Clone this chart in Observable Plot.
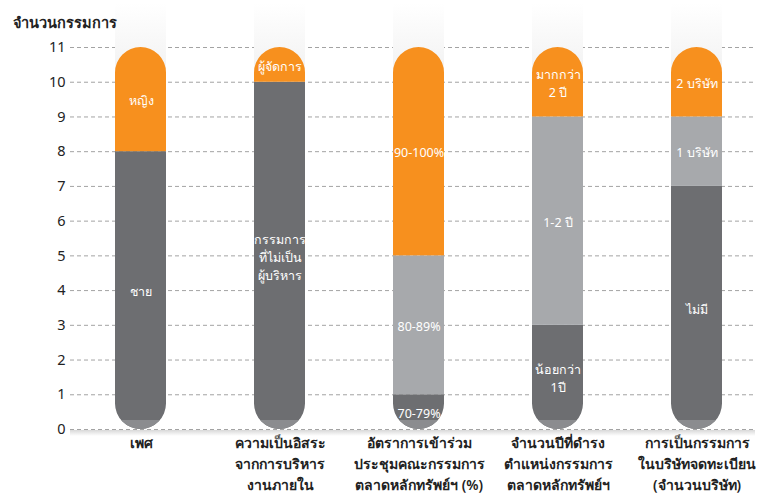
<!DOCTYPE html>
<html>
<head>
<meta charset="utf-8">
<script src="https://cdn.jsdelivr.net/npm/d3@7"></script>
<script src="https://cdn.jsdelivr.net/npm/@observablehq/plot@0.6"></script>
<style>
  body { margin: 0; background: #fff; }
  #chart svg { font-family: "Noto Sans", "DejaVu Sans", sans-serif; }
</style>
</head>
<body>
<div id="chart"></div>
<script>
// ---- data ----
const categories = [
  "เพศ",
  "ความเป็นอิสระ\nจากการบริหาร\nงานภายใน",
  "อัตราการเข้าร่วม\nประชุมคณะกรรมการ\nตลาดหลักทรัพย์ฯ (%)",
  "จำนวนปีที่ดำรง\nตำแหน่งกรรมการ\nตลาดหลักทรัพย์ฯ",
  "การเป็นกรรมการ\nในบริษัทจดทะเบียน\n(จำนวนบริษัท)"
];
const segCategory = [0, 0, 1, 1, 2, 2, 2, 3, 3, 3, 4, 4, 4];
const segLabels = [
  "ชาย", "หญิง",
  "กรรมการ\nที่ไม่เป็น\nผู้บริหาร", "ผู้จัดการ",
  "70-79%", "80-89%", "90-100%",
  "น้อยกว่า\n1ปี", "1-2 ปี", "มากกว่า\n2 ปี",
  "ไม่มี", "1 บริษัท", "2 บริษัท"
];
const segValues = [8, 3, 10, 1, 1, 4, 6, 3, 6, 2, 7, 2, 2];
const segLevel = ["low", "high", "low", "high", "low", "mid", "high", "low", "mid", "high", "low", "mid", "high"];
const levels = ["low", "mid", "high"];
const levelColors = ["#6d6e71", "#a7a9ac", "#f7901e"];
const yTicks = [0, 1, 2, 3, 4, 5, 6, 7, 8, 9, 10, 11];
const yMax = 11;
const yTitle = "จำนวนกรรมการ";

const segments = segValues.map((v, i) => ({
  cat: categories[segCategory[i]],
  value: v,
  level: segLevel[i],
  label: segLabels[i]
}));

const plot = Plot.plot({
  width: 758,
  height: 493,
  marginTop: 47,
  marginBottom: 64,
  marginLeft: 70,
  marginRight: 3,
  style: { fontFamily: "'Noto Sans', 'DejaVu Sans', sans-serif", color: "#222", background: "#fff" },
  x: { type: "band", domain: categories, range: [70, 768], paddingInner: 0.633, paddingOuter: 0.327, label: null },
  y: { domain: [0, yMax], label: null },
  color: { domain: levels, range: levelColors },
  marks: [
    Plot.ruleY(yTicks, { stroke: "#a3a3a3", strokeWidth: 1, strokeDasharray: "4,3", className: "grid" }),
    Plot.barY(segments, { x: "cat", y: "value", fill: "level", className: "capbars" }),
    Plot.text(segments, Plot.stackY({
      x: "cat", y: "value", text: "label", fill: "white",
      fontSize: 12.5, lineHeight: 1.45
    })),
    Plot.axisY({ ticks: yTicks, tickSize: 0, tickPadding: 5, fontSize: 14.5, label: null, tickFormat: d => d }),
    Plot.axisX({ tickSize: 0, tickPadding: 4, fontSize: 14, fontWeight: 600, lineHeight: 1.48, label: null }),
    Plot.text([yTitle], {
      frameAnchor: "top-left", dx: -58, dy: -30, textAnchor: "start", lineAnchor: "top",
      fontSize: 14.5, fontWeight: "bold", fill: "#222"
    })
  ]
});

// clip stacked bars to capsule shapes using the plot's own scales
const xs = plot.scale("x"), ys = plot.scale("y");
const svg = d3.select(plot);
const defs = svg.insert("defs", ":first-child");
const bw = xs.bandwidth;
const cp = defs.append("clipPath").attr("id", "capsules");
categories.forEach(c => {
  cp.append("rect")
    .attr("x", xs.apply(c))
    .attr("width", bw)
    .attr("y", ys.apply(yMax))
    .attr("height", ys.apply(0) - ys.apply(yMax))
    .attr("rx", bw / 2).attr("ry", bw / 2);
});
// gradients
const grad = defs.append("linearGradient").attr("id", "baseShade").attr("x1", 0).attr("x2", 0).attr("y1", 0).attr("y2", 1);
grad.append("stop").attr("offset", 0).attr("stop-color", "#d8d8d8");
grad.append("stop").attr("offset", 1).attr("stop-color", "#ffffff");
const colGrad = defs.append("linearGradient").attr("id", "colShade").attr("x1", 0).attr("x2", 0).attr("y1", 0).attr("y2", 1);
colGrad.append("stop").attr("offset", 0).attr("stop-color", "#ffffff");
colGrad.append("stop").attr("offset", 1).attr("stop-color", "#f2f2f2");

const bars = svg.select("g.capbars");
// pale columns behind capsule tops
categories.forEach(c => {
  svg.insert("rect", "g.capbars")
    .attr("x", xs.apply(c)).attr("width", bw)
    .attr("y", 3).attr("height", ys.apply(yMax) + bw / 2 - 3)
    .attr("fill", "url(#colShade)");
});
bars.attr("clip-path", "url(#capsules)");
// lighter reflection band at the bottom of each capsule
categories.forEach(c => {
  bars.append("rect")
    .attr("x", xs.apply(c)).attr("width", bw)
    .attr("y", ys.apply(0) - 9).attr("height", 9)
    .attr("fill", "#8b8c8f");
});
svg.insert("rect", "g.capbars")
  .attr("x", 70).attr("width", 685)
  .attr("y", ys.apply(0) + 1).attr("height", 6)
  .attr("fill", "url(#baseShade)");

document.getElementById("chart").appendChild(plot);
</script>
</body>
</html>
